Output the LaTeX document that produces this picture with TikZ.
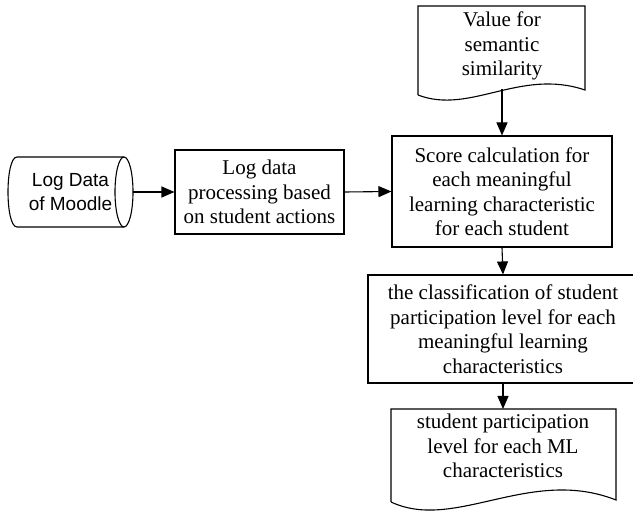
\documentclass[tikz,border=0pt]{standalone}
\usepackage{fontspec}
\setmainfont{Liberation Serif}
\newfontfamily\arialf{Liberation Sans}
\usetikzlibrary{arrows.meta}
\tikzset{
  flowline/.style={line width=1.1pt, draw=black},
  arr/.style={flowline, -{Triangle[length=13pt,width=11pt]}},
  txt/.style={align=center, inner sep=0pt, font=\fontsize{21}{24.5}\selectfont},
  sanstxt/.style={align=center, inner sep=0pt, font=\arialf\fontsize{19}{24}\selectfont},
  procbox/.style={flowline, rectangle, inner sep=0pt},
}
\begin{document}
\begin{tikzpicture}[x=1pt,y=-1pt]
\path[use as bounding box, clip] (0,0) rectangle (633,513);

% cylinder (stored data)
\draw[flowline] (17,157) .. controls (5,157) and (5,227) .. (17,227) -- (124,227)
  (17,157) -- (124,157);
\draw[flowline] (124,192) ellipse [x radius=9pt, y radius=35pt];
\node[sanstxt, minimum width=125pt, minimum height=70pt] (cyl) at (70.5,192) {Log Data\\of Moodle};

% process box
\node[procbox, minimum width=169pt, minimum height=84pt] (proc) at (259.5,192) {};
\node[txt] at (proc.center) {Log data\\processing based\\on student actions};

% score box
\node[procbox, minimum width=220pt, minimum height=111pt] (score) at (502,191.5) {};
\node[txt] at (score.center) {Score calculation for\\each meaningful\\learning characteristic\\for each student};

% classification box (extends past right border)
\node[procbox, minimum width=270pt, minimum height=108pt] (class) at (503,329) {};
\node[txt] at (class.center) {the classification of student\\participation level for each\\meaningful learning\\characteristics};

% document: value for semantic similarity
\draw[flowline] (418,95) -- (418,6) -- (585,6) -- (585,90)
  .. controls (520,68) and (470,115) .. (418,95);
\node[txt] (val) at (502,46) {Value for\\semantic\\similarity};
\coordinate (valb) at (502,89);

% document: output
\draw[flowline] (391,502) -- (391,409) -- (616,409) -- (616,500)
  .. controls (530,466) and (455,532) .. (391,502);
\node[txt] (outtxt) at (503,446) {student participation\\level for each ML\\characteristics};
\coordinate (outtop) at (503,409);

% connectors
\draw[arr] (cyl.east) -- (proc.west);
\draw[arr] (proc.east) -- (score.west);
\draw[arr] (valb) -- (score.north -| valb);
\draw[arr] (score.south) -- (class.north);
\draw[arr] (class.south) -- (outtop);
\end{tikzpicture}
\end{document}
